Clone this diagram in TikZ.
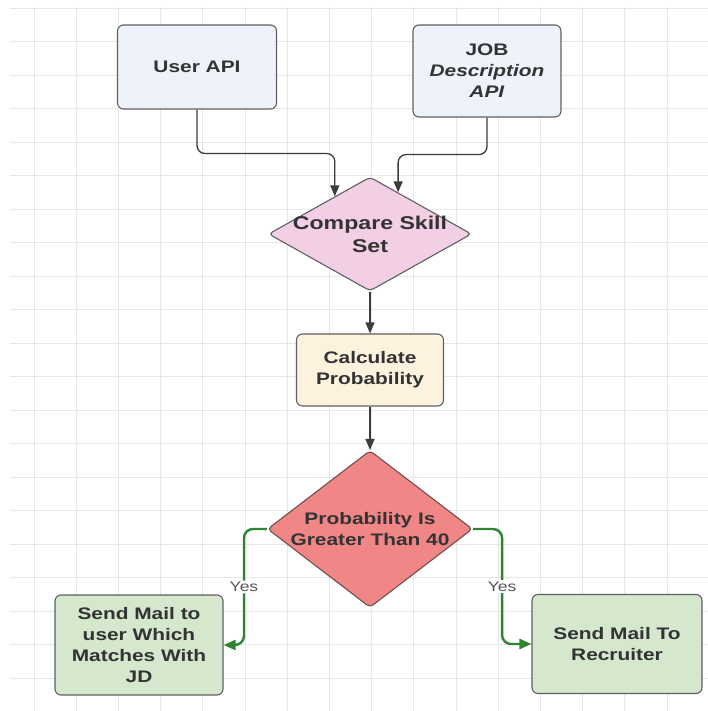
\documentclass[tikz,border=0pt]{standalone}
\usepackage{fontspec}
\usepackage{xcolor}
\usepackage{tikz}
\usetikzlibrary{shapes, arrows.meta, positioning, calc}

\newfontfamily\flowfont[FakeStretch=1.25]{Liberation Sans}

\definecolor{gridgray}{RGB}{230,230,230}
\definecolor{linegray}{RGB}{95,95,95}
\definecolor{arrowgray}{RGB}{60,60,60}
\definecolor{textgray}{RGB}{51,51,51}
\definecolor{yesgray}{RGB}{85,85,85}
\definecolor{apiblue}{RGB}{238,243,251}
\definecolor{skillpink}{RGB}{243,207,230}
\definecolor{calccream}{RGB}{253,242,222}
\definecolor{probred}{RGB}{240,134,134}
\definecolor{probedge}{RGB}{112,78,78}
\definecolor{mailgreen}{RGB}{213,232,206}
\definecolor{greenline}{RGB}{47,132,52}

\begin{document}
\begin{tikzpicture}[x=1pt, y=-1pt,
  gridline/.style={draw=gridgray, line width=0.8pt},
  box/.style={draw=linegray, line width=1.1pt, rounded corners=6pt, align=center,
    text=textgray, font=\flowfont\bfseries\fontsize{16.7}{21}\selectfont},
  decision/.style={diamond, draw=linegray, line width=1.1pt, rounded corners=4pt, inner sep=0pt},
  dtext/.style={align=center, text=textgray, font=\flowfont\bfseries\fontsize{16.7}{21}\selectfont},
  flow/.style={draw=arrowgray, line width=1.3pt, rounded corners=8pt, -{Triangle[length=11pt,width=9pt]}},
  yes/.style={draw=greenline, line width=2.4pt, rounded corners=9pt, -{Triangle[length=12pt,width=10pt]}},
  yeslbl/.style={fill=white, inner sep=1.5pt, text=yesgray, font=\flowfont\fontsize{14}{16}\selectfont}]
\useasboundingbox[fill=white] (0,0) rectangle (708,711);

% background grid
\foreach \gy in {0,...,21}
  \draw[gridline] (10,{8+33.5*\gy}) -- (708,{8+33.5*\gy});
\foreach \gx in {0,...,15}
  \draw[gridline] ({34+42.2*\gx},8) -- ({34+42.2*\gx},711);

% inputs
\node[box, fill=apiblue, minimum width=159pt, minimum height=84pt] (user) at (197,67) {User API};
\node[box, fill=apiblue, minimum width=148pt, minimum height=92pt] (job) at (487,71)
  {JOB\\\textit{Description}\\\textit{API}};

% matching
\node[decision, fill=skillpink, minimum width=203pt, minimum height=114pt,
  label={[dtext, font=\flowfont\bfseries\fontsize{18.5}{23}\selectfont]center:{Compare Skill\\Set}}] (cmp) at (370,234) {};
\node[box, fill=calccream, minimum width=147pt, minimum height=72pt] (calcprob) at (370,370)
  {Calculate\\Probability};
\node[decision, fill=probred, draw=probedge, minimum width=205pt, minimum height=157pt,
  label={[dtext]center:{Probability Is\\Greater Than 40}}] (prob) at (370,529) {};

% outputs
\node[box, fill=mailgreen, minimum width=168pt, minimum height=100pt] (mailuser) at (139,645)
  {Send Mail to\\user Which\\Matches With\\JD};
\node[box, fill=mailgreen, minimum width=170pt, minimum height=99pt] (mailrec) at (617,644)
  {Send Mail To\\Recruiter};

\draw[flow] (user.south) -- ++(0,44) -| (cmp.133);
\draw[flow] (job.south) -- ++(0,37) -| (cmp.56);
\draw[flow] (cmp.south) -- (calcprob.north);
\draw[flow] (calcprob.south) -- (prob.north);
\draw[yes] (prob.west) -- ++(-23,0) |- node[yeslbl, pos=0.25] {Yes} (mailuser.east);
\draw[yes] (prob.east) -- ++(29,0) |- node[yeslbl, pos=0.25] {Yes} (mailrec.west);
\end{tikzpicture}
\end{document}
